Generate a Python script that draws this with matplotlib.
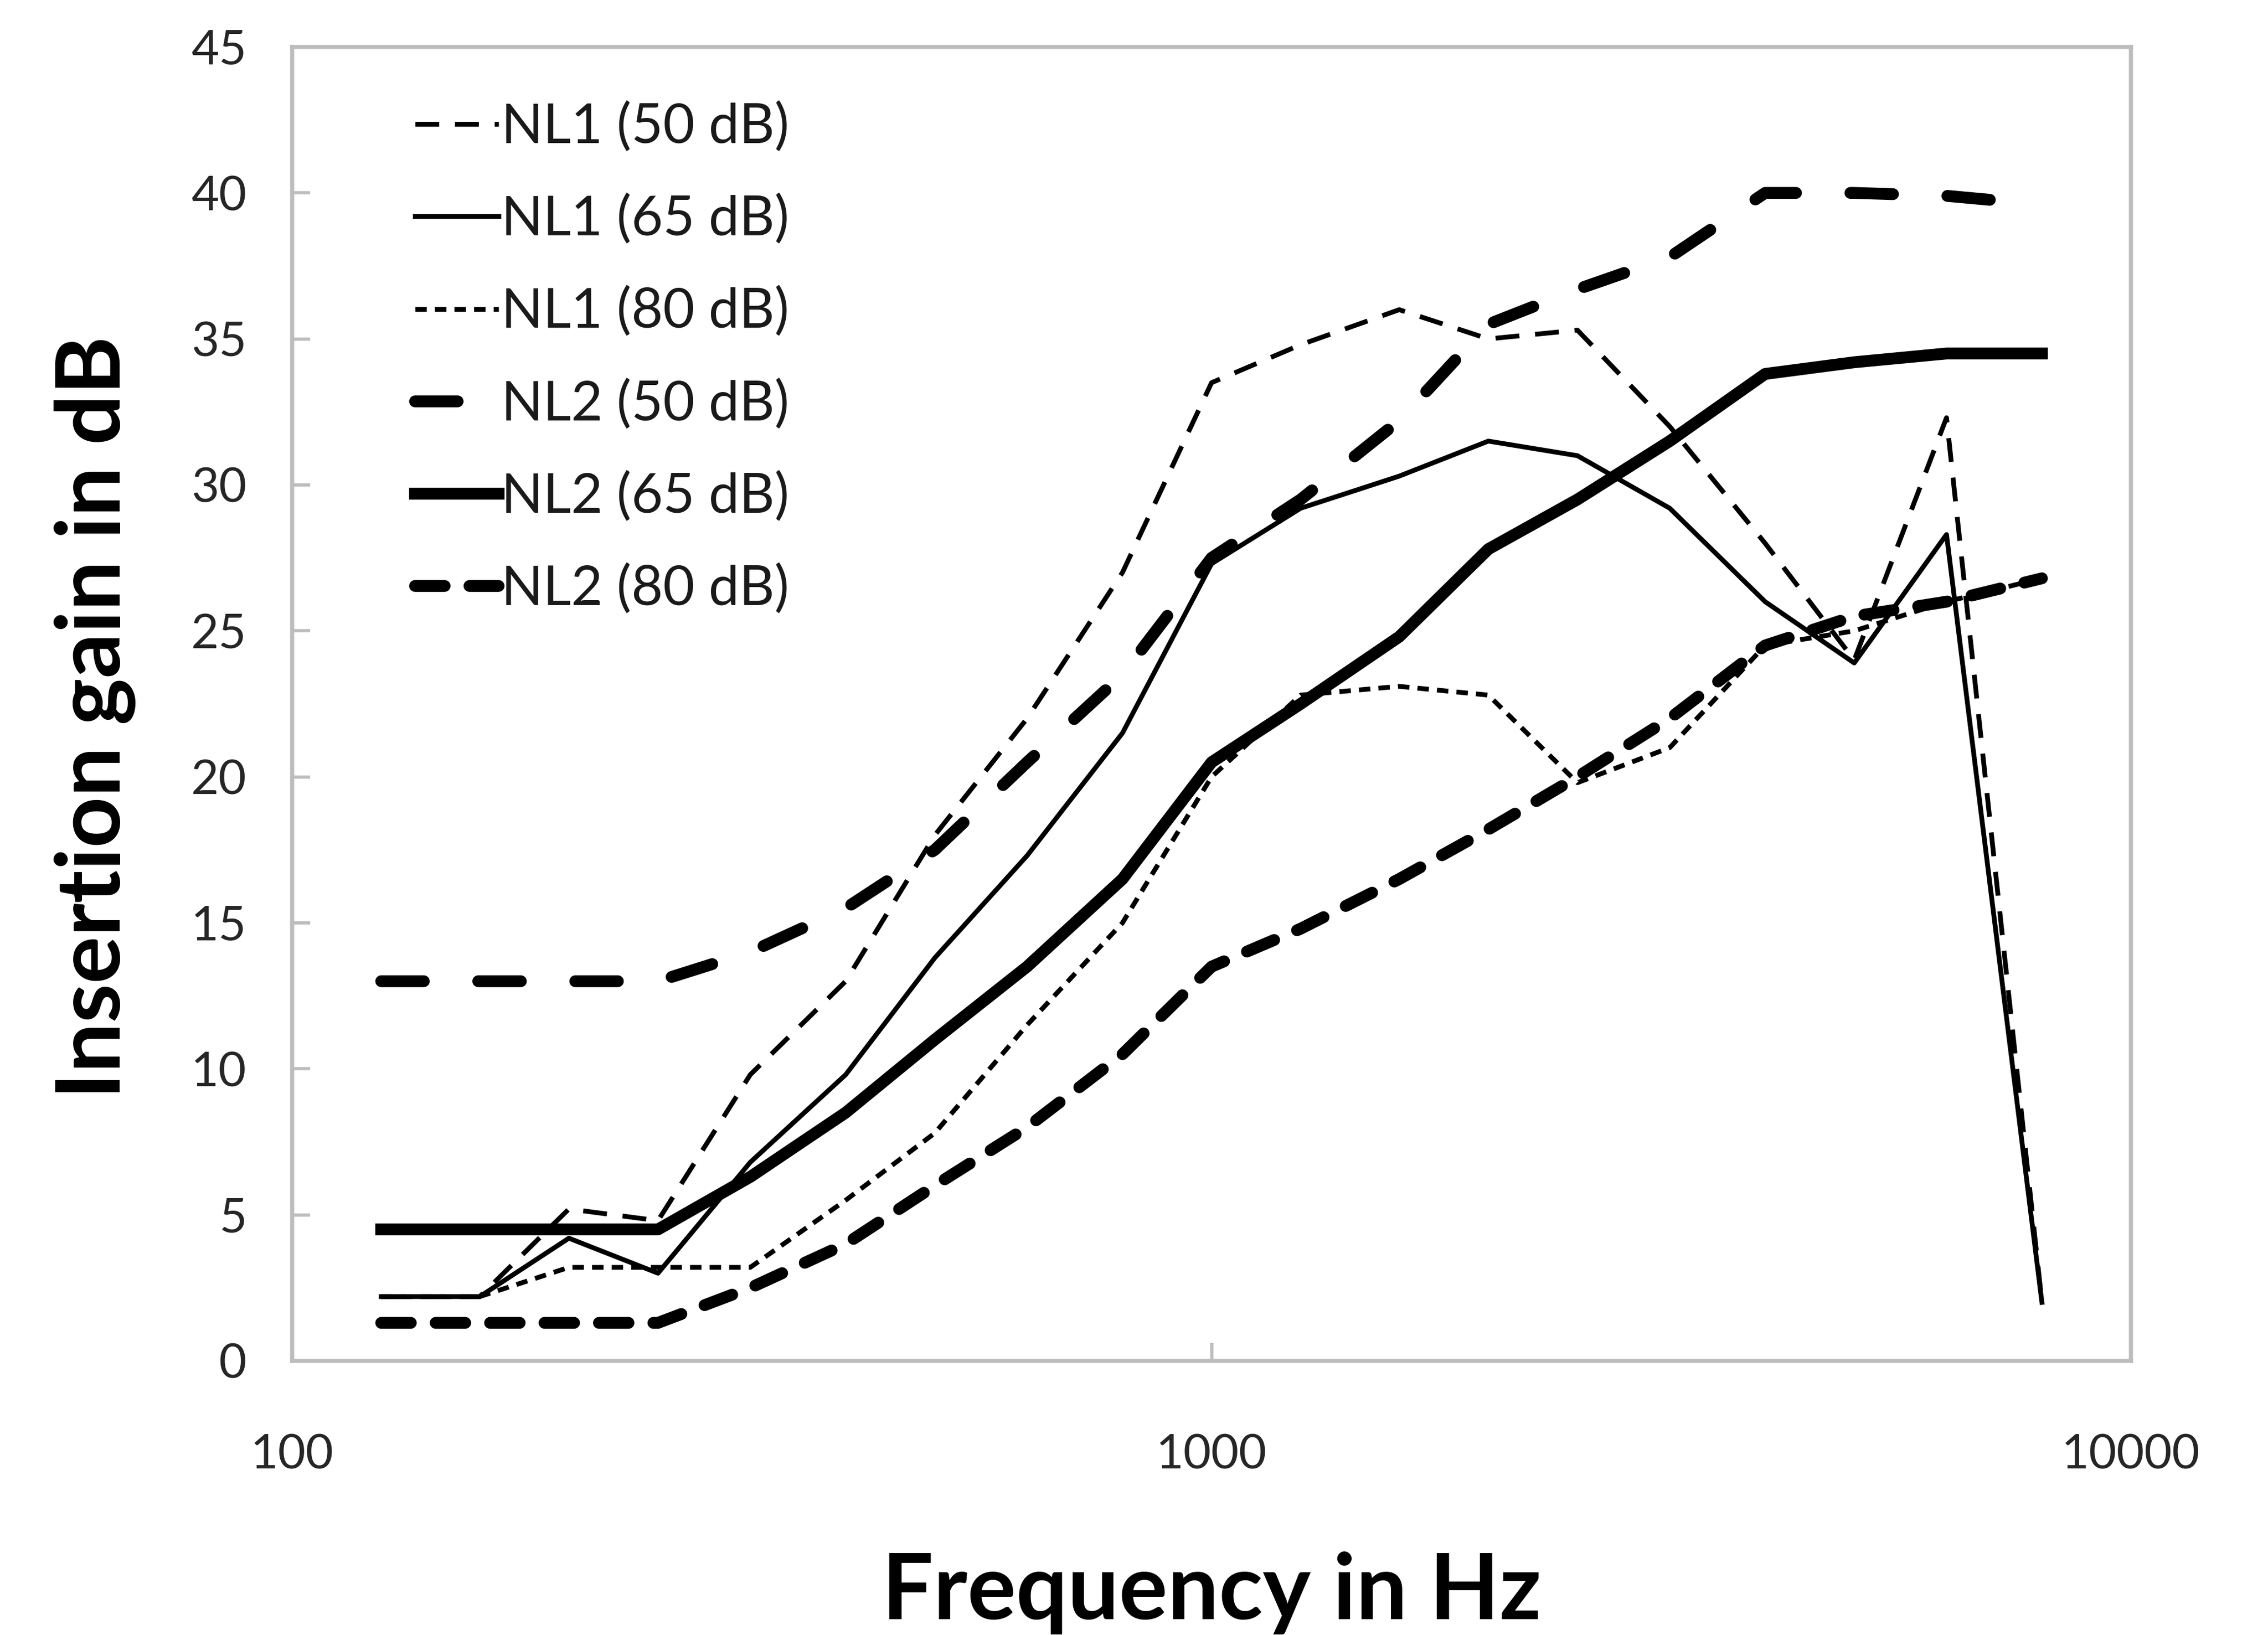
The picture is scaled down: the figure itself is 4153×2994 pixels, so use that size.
import numpy as np
import matplotlib
matplotlib.use("Agg")
import matplotlib.pyplot as plt

# third-octave centre frequencies (Hz)
freqs = [125, 160, 200, 250, 315, 400, 500, 630, 800, 1000, 1250, 1600,
         2000, 2500, 3150, 4000, 5000, 6300, 8000]

# insertion gain in dB
nl1_50 = [2.2, 2.2, 5.2, 4.8, 9.8, 13.0, 18.0, 22.0, 27.0, 33.5, 34.8, 36.0,
          35.0, 35.3, 32.0, 28.0, 24.0, 32.3, 2.0]
nl1_65 = [2.2, 2.2, 4.2, 3.0, 6.8, 9.8, 13.8, 17.3, 21.5, 27.3, 29.2, 30.3,
          31.5, 31.0, 29.2, 26.0, 23.9, 28.3, 2.0]
nl1_80 = [2.2, 2.2, 3.2, 3.2, 3.2, 5.5, 7.8, 11.5, 15.0, 20.0, 22.8, 23.1,
          22.8, 19.8, 21.0, 24.5, 25.0, 26.0, 26.8]
nl2_50 = [13.0, 13.0, 13.0, 13.0, 14.0, 15.5, 17.5, 20.5, 23.5, 27.5, 29.5, 32.2,
          35.5, 36.7, 37.8, 40.0, 40.0, 39.9, 39.6]
nl2_65 = [4.5, 4.5, 4.5, 4.5, 6.3, 8.5, 11.0, 13.5, 16.5, 20.5, 22.5, 24.8,
          27.8, 29.5, 31.5, 33.8, 34.2, 34.5, 34.5]
nl2_80 = [1.3, 1.3, 1.3, 1.3, 2.5, 4.0, 6.0, 8.0, 10.5, 13.5, 14.8, 16.5,
          18.2, 20.0, 22.0, 24.5, 25.5, 26.0, 26.8]

labels = ["NL1 (50 dB)", "NL1 (65 dB)", "NL1 (80 dB)",
          "NL2 (50 dB)", "NL2 (65 dB)", "NL2 (80 dB)"]

plt.rcParams['font.family'] = ['Lato', 'DejaVu Sans']

fig = plt.figure(figsize=(4153 / 300, 2994 / 300), dpi=300)
ax = fig.add_axes([0.1288, 0.1677, 0.8108, 0.8036])

thin = 2.1
thick = 5.2
ax.plot(freqs, nl1_50, color="black", lw=thin, ls=(0, (5.0, 3.3)), label=labels[0])
ax.plot(freqs, nl1_65, color="black", lw=thin, ls="-", label=labels[1])
ax.plot(freqs, nl1_80, color="black", lw=thin, ls=(0, (2.4, 1.7)), label=labels[2])
ax.plot(freqs, nl2_50, color="black", lw=thick, ls=(0, (3.6, 4.6)),
        dash_capstyle="round", label=labels[3])
ax.plot(freqs, nl2_65, color="black", lw=thick, ls="-", label=labels[4])
ax.plot(freqs, nl2_80, color="black", lw=thick, ls=(0, (2.5, 2.1)),
        dash_capstyle="round", label=labels[5])

ax.set_xscale("log")
ax.set_xlim(100, 10000)
ax.set_ylim(0, 45)
ax.set_yticks(np.arange(0, 46, 5))
ax.set_xticks([100, 1000, 10000])
ax.set_xticklabels(["100", "1000", "10000"])
ax.xaxis.set_minor_locator(matplotlib.ticker.NullLocator())

for s in ax.spines.values():
    s.set_color("#bdbdbd")
    s.set_linewidth(1.8)

ax.tick_params(axis="both", direction="in", length=8, width=1.4,
               color="#bdbdbd", labelsize=21, labelcolor="#262626")
ax.tick_params(axis="y", pad=20)
ax.tick_params(axis="x", pad=32)

ax.set_xlabel("Frequency in Hz", fontsize=40, fontweight="bold")
ax.xaxis.set_label_coords(0.5, -0.145)
ax.set_ylabel("Insertion gain in dB", fontsize=39, fontweight="bold")
ax.yaxis.set_label_coords(-0.085, 0.49)

leg = ax.legend(loc="upper left", bbox_to_anchor=(0.055, 0.975), frameon=False,
                fontsize=24, handlelength=1.53, handletextpad=0.05,
                labelspacing=0.76, borderaxespad=0)
for t in leg.get_texts():
    t.set_color("#1a1a1a")

fig.savefig("out.png", dpi=300)
